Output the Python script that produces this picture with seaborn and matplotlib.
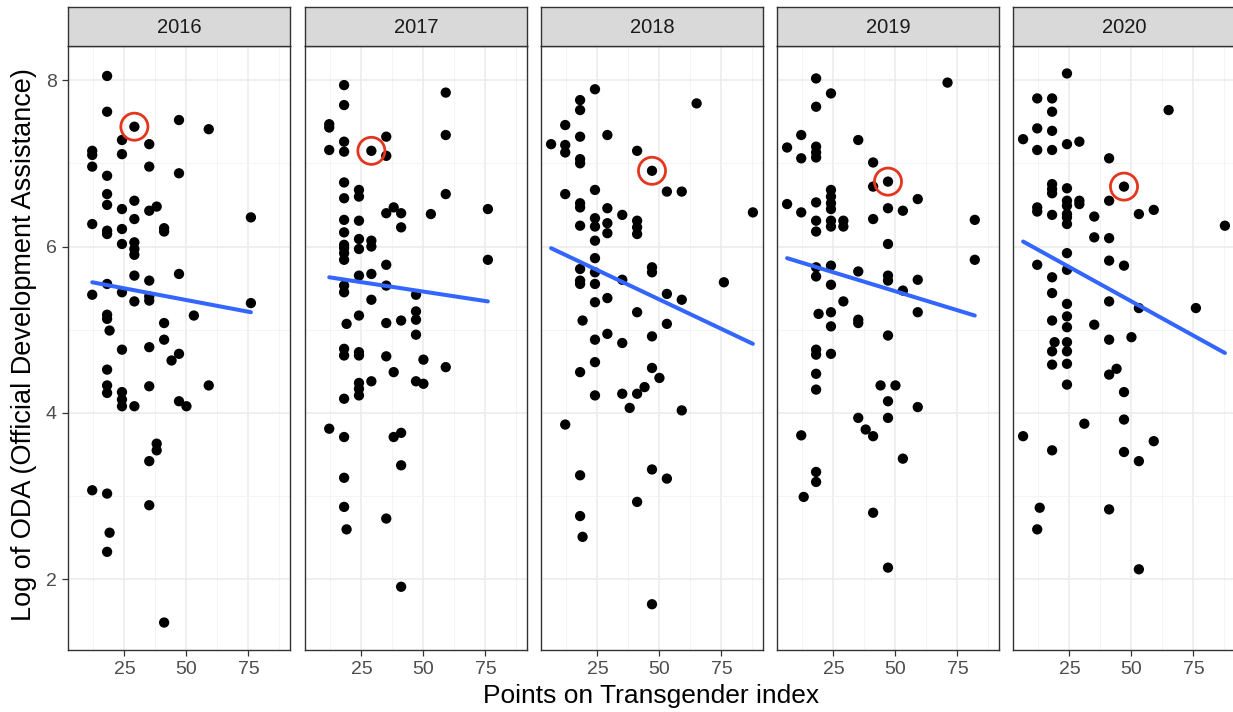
import numpy as np
import pandas as pd
import matplotlib
matplotlib.use("Agg")
import matplotlib.pyplot as plt
import seaborn as sns

# Points on Transgender index (x) and log of ODA (y), one pair of lists per year
x_2016 = [18, 18, 29, 47, 59, 24, 35, 12, 12, 24, 12, 35, 18, 47, 18, 18, 29, 24, 35, 38, 12, 24, 18, 18,
          29, 41, 41, 24, 29, 29, 29, 76, 29, 47, 35, 18, 12, 24, 35, 35, 29, 76, 18, 18, 53, 19, 41, 41,
          35, 24, 47, 44, 18, 18, 18, 24, 24, 24, 29, 35, 47, 50, 59, 38, 38, 35, 12, 18, 35, 19, 18, 41]
y_2016 = [8.05, 7.62, 7.44, 7.52, 7.41, 7.28, 7.23, 7.15, 7.10, 7.11, 6.96, 6.96, 6.85, 6.88, 6.63, 6.50,
          6.55, 6.45, 6.43, 6.48, 6.27, 6.21, 6.19, 6.15, 6.33, 6.22, 6.18, 6.03, 6.05, 5.97, 5.90, 6.35,
          5.65, 5.67, 5.59, 5.55, 5.42, 5.45, 5.40, 5.35, 5.34, 5.32, 5.18, 5.13, 5.17, 4.99, 5.08, 4.88,
          4.79, 4.76, 4.71, 4.63, 4.52, 4.33, 4.24, 4.25, 4.16, 4.08, 4.08, 4.32, 4.14, 4.08, 4.33, 3.63,
          3.55, 3.42, 3.07, 3.03, 2.89, 2.56, 2.33, 1.48]

x_2017 = [18, 18, 59, 12, 12, 59, 18, 35, 12, 18, 29, 35, 18, 24, 24, 18, 59, 38, 35, 41, 53, 76, 41, 18,
          24, 18, 24, 29, 29, 18, 18, 18, 18, 24, 76, 35, 24, 29, 18, 18, 35, 47, 29, 47, 47, 24, 19, 35,
          41, 47, 18, 18, 24, 24, 35, 50, 38, 59, 29, 24, 24, 24, 47, 50, 18, 12, 18, 38, 41, 41, 18, 18,
          35, 19, 41]
y_2017 = [7.94, 7.70, 7.85, 7.47, 7.43, 7.34, 7.26, 7.32, 7.16, 7.14, 7.15, 7.09, 6.77, 6.68, 6.60, 6.58,
          6.63, 6.47, 6.40, 6.40, 6.39, 6.45, 6.23, 6.32, 6.31, 6.17, 6.09, 6.07, 6.00, 6.02, 5.98, 5.92,
          5.84, 5.97, 5.84, 5.78, 5.65, 5.67, 5.53, 5.45, 5.53, 5.42, 5.36, 5.22, 5.12, 5.17, 5.07, 5.08,
          5.11, 4.94, 4.77, 4.69, 4.73, 4.69, 4.68, 4.64, 4.49, 4.55, 4.38, 4.36, 4.29, 4.21, 4.38, 4.35,
          4.17, 3.81, 3.71, 3.71, 3.76, 3.37, 3.22, 2.87, 2.73, 2.60, 1.91]

x_2018 = [24, 18, 18, 65, 12, 29, 18, 6.3, 12, 12, 41, 18, 18, 47, 24, 12, 53, 59, 18, 18, 29, 35, 87.7,
          24, 24, 18, 29, 29, 41, 41, 41, 24, 24, 18, 24, 47, 47, 18, 18, 24, 35, 76, 53, 29, 59, 24, 41,
          19, 53, 29, 47, 24, 35, 24, 18, 47, 50, 44, 24, 35, 41, 38, 59, 12, 47, 18, 53, 41, 18, 19, 47]
y_2018 = [7.89, 7.76, 7.64, 7.72, 7.46, 7.34, 7.32, 7.23, 7.22, 7.13, 7.15, 7.05, 7.00, 6.91, 6.68, 6.63,
          6.66, 6.66, 6.52, 6.47, 6.46, 6.38, 6.41, 6.34, 6.24, 6.25, 6.28, 6.16, 6.31, 6.23, 6.15, 6.07,
          5.86, 5.73, 5.69, 5.75, 5.69, 5.59, 5.55, 5.55, 5.60, 5.57, 5.43, 5.38, 5.36, 5.33, 5.21, 5.11,
          5.07, 4.95, 4.92, 4.88, 4.84, 4.61, 4.49, 4.54, 4.42, 4.31, 4.21, 4.23, 4.23, 4.06, 4.03, 3.86,
          3.32, 3.25, 3.21, 2.93, 2.76, 2.51, 1.70]

x_2019 = [18, 71, 24, 18, 12, 35, 6.3, 18, 18, 18, 12, 41, 47, 41, 24, 24, 24, 24, 59, 6.3, 18, 47, 53,
          12, 41, 18, 18, 24, 24, 29, 29, 82, 47, 82, 18, 18, 24, 35, 47, 47, 59, 24, 53, 29, 19, 24, 59,
          35, 35, 24, 47, 18, 18, 24, 18, 18, 44, 50, 47, 59, 35, 47, 38, 41, 12, 53, 18, 18, 13, 41, 47]
y_2019 = [8.02, 7.97, 7.84, 7.68, 7.34, 7.28, 7.19, 7.20, 7.13, 7.07, 7.06, 7.01, 6.78, 6.72, 6.68, 6.60,
          6.52, 6.45, 6.57, 6.51, 6.53, 6.46, 6.43, 6.41, 6.33, 6.31, 6.18, 6.31, 6.24, 6.31, 6.24, 6.32,
          6.03, 5.84, 5.75, 5.64, 5.77, 5.70, 5.65, 5.59, 5.60, 5.54, 5.47, 5.34, 5.19, 5.21, 5.21, 5.12,
          5.08, 5.04, 4.93, 4.76, 4.70, 4.71, 4.47, 4.28, 4.33, 4.33, 4.14, 4.07, 3.94, 3.94, 3.80, 3.72,
          3.73, 3.45, 3.29, 3.17, 2.99, 2.80, 2.14]

x_2020 = [24, 12, 18, 18, 65, 12, 18, 6.3, 24, 29, 12, 18, 41, 47, 18, 18, 18, 24, 24, 24, 24, 24, 29, 29,
          41, 12, 12, 18, 24, 35, 53, 59, 87.7, 35, 41, 24, 12, 41, 47, 24, 18, 18, 41, 24, 53, 76, 24, 24,
          18, 35, 50, 41, 19, 18, 18, 24, 24, 24, 44, 41, 24, 47, 47, 31, 6.3, 59, 18, 47, 53, 41, 13, 12,
          53]
y_2020 = [8.08, 7.78, 7.78, 7.62, 7.64, 7.42, 7.39, 7.29, 7.23, 7.26, 7.16, 7.16, 7.06, 6.72, 6.75, 6.69,
          6.64, 6.70, 6.55, 6.49, 6.35, 6.27, 6.55, 6.51, 6.55, 6.47, 6.42, 6.38, 6.39, 6.36, 6.39, 6.44,
          6.25, 6.11, 6.10, 5.92, 5.78, 5.83, 5.77, 5.72, 5.63, 5.44, 5.34, 5.31, 5.26, 5.26, 5.16, 5.03,
          5.11, 5.06, 4.91, 4.88, 4.85, 4.74, 4.58, 4.85, 4.74, 4.59, 4.53, 4.46, 4.34, 4.25, 3.92, 3.87,
          3.72, 3.66, 3.55, 3.53, 3.42, 2.84, 2.86, 2.60, 2.12]

years = [2016, 2017, 2018, 2019, 2020]
# highlighted country in each year (red ring)
hl_x = [29, 29, 47, 47, 47]
hl_y = [7.44, 7.15, 6.91, 6.78, 6.72]
# linear trend: value at the lowest and highest x of each year
trend_start = [5.57, 5.63, 5.98, 5.86, 6.06]
trend_end = [5.21, 5.34, 4.83, 5.17, 4.72]

xs = [x_2016, x_2017, x_2018, x_2019, x_2020]
ys = [y_2016, y_2017, y_2018, y_2019, y_2020]
df = pd.concat([pd.DataFrame({"year": yr, "points": xv, "oda": yv})
                for yr, xv, yv in zip(years, xs, ys)], ignore_index=True)

sns.set_theme(style="white")
plt.rcParams["font.family"] = ["Liberation Sans", "DejaVu Sans"]

W, H = 1233, 712
fig = plt.figure(figsize=(W / 100, H / 100), dpi=100)

# ggplot-like 5% expansion
xmin, xmax = df.points.min(), df.points.max()
ymin, ymax = df.oda.min(), df.oda.max()
xr, yr_ = xmax - xmin, ymax - ymin
xlim = (xmin - 0.05 * xr, xmax + 0.05 * xr)
ylim = (ymin - 0.05 * yr_, ymax + 0.05 * yr_)

lefts = [68, 305, 541, 777, 1013]
pw = 222
p_top, p_bot = 46, 650
s_top = 7
dark = "#333333"

for i, yr in enumerate(years):
    d = df[df.year == yr]
    ax = fig.add_axes([lefts[i] / W, 1 - p_bot / H, pw / W, (p_bot - p_top) / H])
    ax.set_xlim(xlim)
    ax.set_ylim(ylim)
    ax.set_xticks([25, 50, 75])
    ax.set_xticks([12.5, 37.5, 62.5, 87.5], minor=True)
    ax.set_yticks([2, 4, 6, 8])
    ax.set_yticks([3, 5, 7], minor=True)
    ax.grid(which="major", color="#EBEBEB", linewidth=1.1)
    ax.grid(which="minor", color="#F2F2F2", linewidth=0.6)
    ax.set_axisbelow(True)

    sns.scatterplot(data=d, x="points", y="oda", ax=ax, color="black", s=55,
                    edgecolor="none", zorder=3)
    trend = pd.DataFrame({"points": [d.points.min(), d.points.max()],
                          "oda": [trend_start[i], trend_end[i]]})
    sns.lineplot(data=trend, x="points", y="oda", ax=ax, color="#3366FF",
                 linewidth=2.9, zorder=4)
    ax.scatter([hl_x[i]], [hl_y[i]], s=380, facecolors="none", edgecolors="#E4361E",
               linewidths=2.0, zorder=5)

    for sp in ax.spines.values():
        sp.set_color(dark)
        sp.set_linewidth(1.0)
    ax.tick_params(axis="both", which="major", direction="out", length=4, width=0.9,
                   color=dark, labelsize=14, labelcolor="#4D4D4D", pad=4,
                   bottom=True, left=True)
    ax.tick_params(axis="both", which="minor", length=0)
    if i > 0:
        ax.tick_params(axis="y", labelleft=False, left=False)
    ax.set_xlabel("")
    ax.set_ylabel("")

    # strip
    sax = fig.add_axes([lefts[i] / W, 1 - p_top / H, pw / W, (p_top - s_top) / H])
    sax.set_facecolor("#D9D9D9")
    sax.set_xticks([])
    sax.set_yticks([])
    for sp in sax.spines.values():
        sp.set_color(dark)
        sp.set_linewidth(1.0)
    sax.text(0.5, 0.48, str(yr), ha="center", va="center", fontsize=14.5,
             color="#1A1A1A", transform=sax.transAxes)

fig.text(651 / W, 1 - 696 / H, "Points on Transgender index", ha="center", va="center",
         fontsize=19, color="black")
fig.text(24 / W, 1 - 345 / H, "Log of ODA (Official Development Assistance)", ha="center",
         va="center", rotation=90, fontsize=19.5, color="black")

fig.savefig("out.png", dpi=100, facecolor="white")
